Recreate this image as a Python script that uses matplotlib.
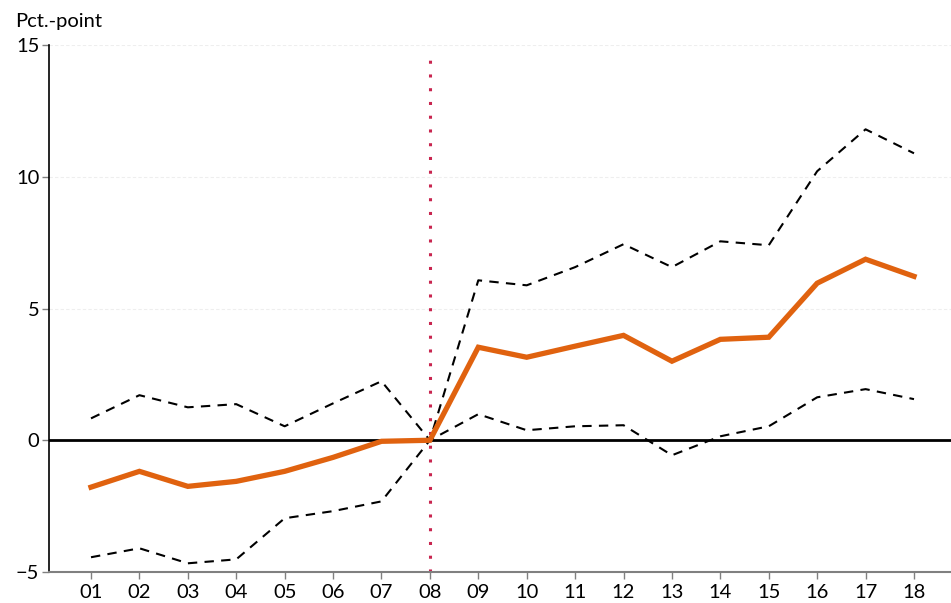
import numpy as np
import matplotlib
matplotlib.use("Agg")
from matplotlib import pyplot as plt

plt.rcParams['font.family'] = ['Lato', 'DejaVu Sans']

labels = ["01", "02", "03", "04", "05", "06", "07", "08", "09",
          "10", "11", "12", "13", "14", "15", "16", "17", "18"]
estimate = [-1.78, -1.18, -1.75, -1.56, -1.18, -0.65, -0.04, 0.0, 3.53,
            3.15, 3.57, 3.98, 3.00, 3.83, 3.91, 5.96, 6.87, 6.22]
upper = [0.83, 1.71, 1.25, 1.37, 0.53, 1.40, 2.24, 0.0, 6.07,
         5.88, 6.57, 7.44, 6.57, 7.55, 7.40, 10.21, 11.80, 10.89]
lower = [-4.44, -4.10, -4.67, -4.52, -2.96, -2.69, -2.32, 0.0, 0.99,
         0.38, 0.53, 0.57, -0.57, 0.15, 0.53, 1.63, 1.94, 1.56]
event = "08"

x = np.arange(1, len(labels) + 1)

fig = plt.figure(figsize=(9.51, 6.03), dpi=100)
ax = fig.add_axes([49 / 951, 1 - 572 / 603, 1 - 49 / 951, (572 - 45) / 603])

# faint gridlines
for yv in [5, 10, 15]:
    ax.axhline(yv, color="#eeeeee", lw=0.8, ls=(0, (3, 2)), zorder=0)

ax.axhline(0, color="black", lw=2, zorder=2)
ev = labels.index(event) + 1
ax.axvline(ev, ymax=0.99, color="#c8254f", lw=2.2, ls=(0, (1, 3.5)), zorder=1)

ax.plot(x, upper, color="black", lw=1.5, ls=(0, (4.5, 3.5)), zorder=3)
ax.plot(x, lower, color="black", lw=1.5, ls=(0, (4.5, 3.5)), zorder=3)
ax.plot(x, estimate, color="#e0620f", lw=3.8, zorder=4, solid_joinstyle="miter")

ax.set_xlim(1 - 42 / 48.4, 18 + 37 / 48.4)
ax.set_ylim(-5, 15)
ax.set_yticks([-5, 0, 5, 10, 15])
ax.set_xticks(x)
ax.set_xticklabels(labels)

for s in ["top", "right"]:
    ax.spines[s].set_visible(False)
ax.spines["left"].set_color("black")
ax.spines["left"].set_linewidth(1.2)
ax.spines["bottom"].set_color("#808080")
ax.spines["bottom"].set_linewidth(1.5)

ax.tick_params(axis="y", length=5, width=1, color="#808080", labelsize=14.5, pad=2)
ax.tick_params(axis="x", length=5, width=1, color="#808080", labelsize=14.5, pad=4)

fig.text(15 / 951, 1 - 22 / 603, "Pct.-point", fontsize=14.5, ha="left", va="center")

fig.savefig("out.png", dpi=100)
